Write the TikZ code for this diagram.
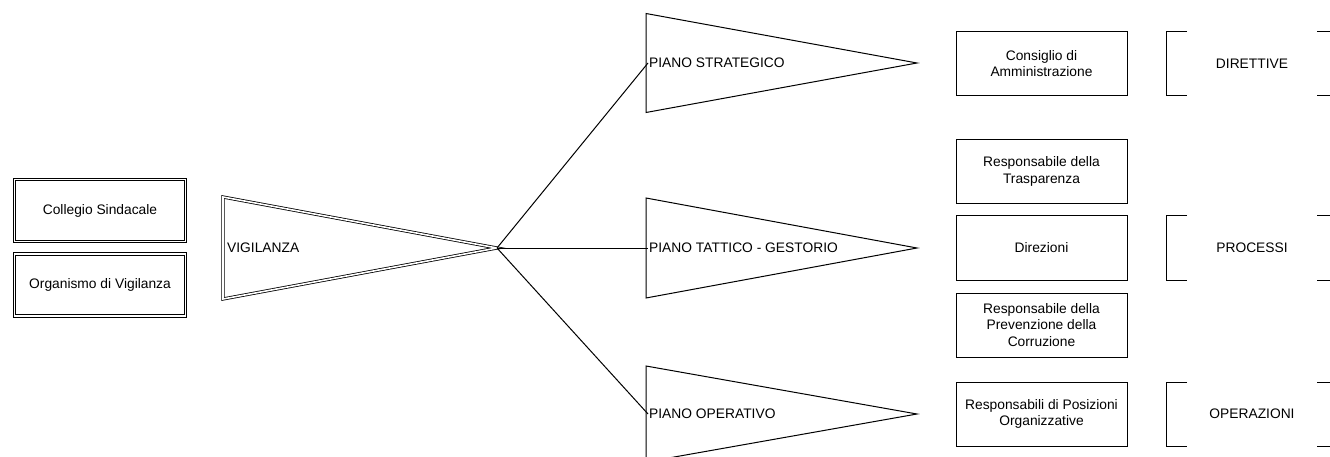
\documentclass[tikz,border=0pt]{standalone}
\usepackage{fontspec}
\setmainfont{Liberation Sans}
\usetikzlibrary{calc}
\tikzset{
	lbl/.style={font=\fontsize{13.8}{16.5}\selectfont, align=center, inner sep=1pt},
	box/.style={draw, line width=1pt, minimum width=171pt, minimum height=64pt, lbl},
	dbox/.style={draw, double, double distance=1.6pt, line width=0.8pt, minimum width=171pt, minimum height=62pt, lbl},
	edge/.style={line width=1pt},
	dedge/.style={double, double distance=1.6pt, line width=0.8pt},
}
% pennant: left side at x, centre y, apex x, half height
\def\pennant[#1](#2,#3)(#4:#5){\draw[#1] (#2,#3-#5) -- (#4,#3) -- (#2,#3+#5) -- cycle;}

\begin{document}
\begin{tikzpicture}[x=1pt, y=-1pt]
			%%%%% START %%%%%
			\clip (0,0) rectangle (1330,457);
			
			% organi di controllo
			\node[dbox] (collegio) at (100,210.5) {Collegio Sindacale};
			\node[dbox] (organismo) at (100,285) {Organismo di Vigilanza};
			
			\pennant[dedge](223,248)(497:51);
			\node[lbl, anchor=west] (vig) at (226,248) {VIGILANZA};
			\coordinate (hub) at (497,248);
			
			% piani
			\pennant[edge](646,63)(917:49.5);
			\pennant[edge](646,248)(917:50);
			\pennant[edge](646,414)(917:48);
			
			\node[lbl, anchor=west] (strat) at (648,63) {PIANO STRATEGICO};
			\node[lbl, anchor=west] (tatt) at (648,248) {PIANO TATTICO - GESTORIO};
			\node[lbl, anchor=west] (oper) at (648,414) {PIANO OPERATIVO};
			
			\draw[edge] (hub) -- (strat.west);
			\draw[edge] (hub) -- (tatt.west);
			\draw[edge] (hub) -- (oper.west);
			
			% soggetti
			\node[box] (cda) at (1041.5,63.5) {Consiglio di\\Amministrazione};
			\node[box] (trasp) at (1041.5,171.5) {Responsabile della\\Trasparenza};
			\node[box] (direz) at (1041.5,248) {Direzioni};
			\node[box] (rpc) at (1041.5,325) {Responsabile della\\Prevenzione della\\Corruzione};
			\node[box] (rpo) at (1041.5,414) {Responsabili di Posizioni\\Organizzative};
			
			% ambiti
			\foreach \y/\t/\n in {63.5/DIRETTIVE/diret, 248/PROCESSI/proc, 414/OPERAZIONI/opz} {
				\node[lbl] (\n) at (1252,\y) {\t};
				\draw[edge] (1187,\y-32) -- (1166,\y-32) -- (1166,\y+32) -- (1187,\y+32);
				\draw[edge] (1317,\y-32) -- (1338,\y-32) -- (1338,\y+32) -- (1317,\y+32);
			}
			%%%%% END %%%%%
\end{tikzpicture}
\end{document}
